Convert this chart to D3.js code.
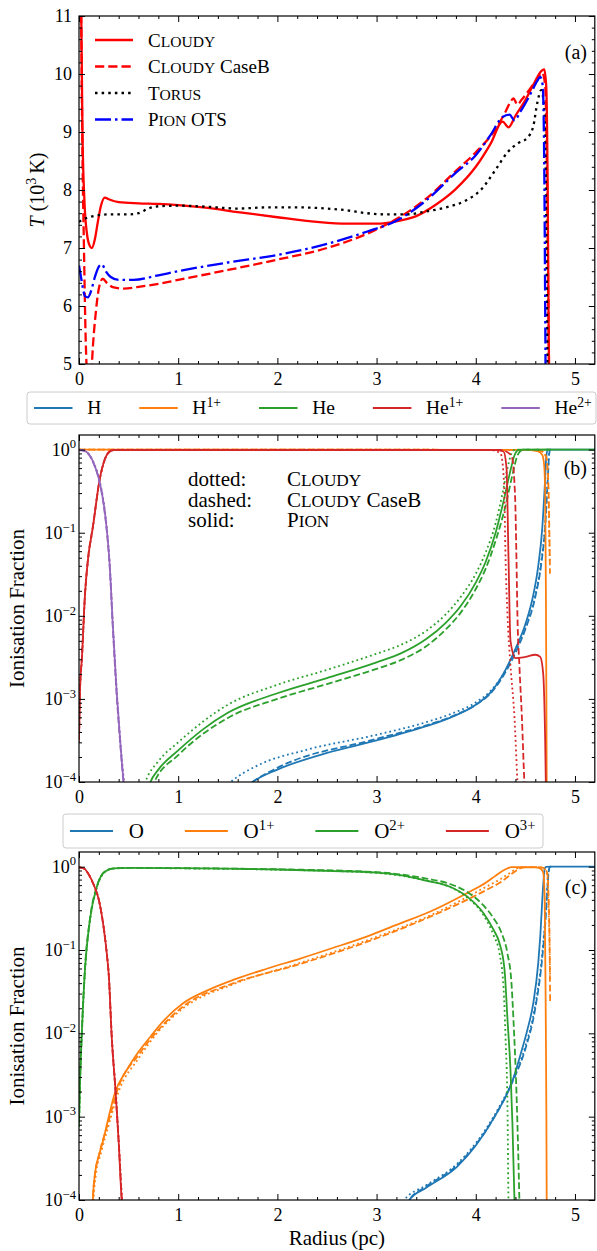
<!DOCTYPE html>
<html>
<head>
<meta charset="utf-8">
<script src="https://cdn.jsdelivr.net/npm/d3@7"></script>
<style>
  html, body { margin: 0; padding: 0; background: #fff; }
  svg { display: block; }
  svg text, svg tspan {
    font-family: "Liberation Serif", "Times New Roman", Tinos, "Nimbus Roman", "Noto Serif", "DejaVu Serif", FreeSerif, serif;
    fill: #000;
  }
</style>
</head>
<body>
<svg id="fig" width="597" height="1251"></svg>
<script>
// ---------- tick values ----------
const radiusTicks = [0, 1, 2, 3, 4, 5];
const tempTicks = [5, 6, 7, 8, 9, 10, 11];
const fracTicks = [1e-4, 1e-3, 1e-2, 1e-1, 1];

// ---------- panel (a): temperature in 10^3 K against radius in pc ----------
const tempCloudy = [[0.0, 14], [0.02, 11.5], [0.035, 9.0], [0.055, 7.8], [0.08, 7.25], [0.105, 7.05], [0.13, 7.0],
  [0.16, 7.15], [0.19, 7.45], [0.22, 7.72], [0.26, 7.87], [0.3, 7.84], [0.4, 7.79], [0.6, 7.77], [0.8, 7.76],
  [1.0, 7.74], [1.3, 7.69], [1.6, 7.62], [2.0, 7.53], [2.4, 7.45], [2.7, 7.42], [3.0, 7.42], [3.2, 7.46],
  [3.4, 7.55], [3.6, 7.75], [3.8, 8.02], [4.0, 8.4], [4.15, 8.8], [4.27, 9.18], [4.33, 9.08], [4.4, 9.28],
  [4.5, 9.55], [4.6, 9.88], [4.66, 10.05], [4.69, 10.08], [4.71, 9.8], [4.725, 8.0], [4.735, 5.5], [4.745, 4.0]];
const tempCloudyCaseB = [[0.0, 14], [0.02, 11.3], [0.035, 8.6], [0.05, 7.0], [0.065, 5.6], [0.08, 4.8], [0.1, 4.4],
  [0.12, 4.7], [0.14, 5.3], [0.17, 5.9], [0.2, 6.3], [0.24, 6.47], [0.28, 6.4], [0.35, 6.32], [0.45, 6.3],
  [0.6, 6.33], [0.8, 6.38], [1.0, 6.45], [1.5, 6.62], [2.0, 6.8], [2.5, 7.0], [3.0, 7.32], [3.2, 7.5], [3.5, 7.85],
  [3.8, 8.33], [4.0, 8.65], [4.2, 9.05], [4.3, 9.35], [4.35, 9.52], [4.38, 9.58], [4.42, 9.47], [4.46, 9.55],
  [4.55, 9.75], [4.62, 9.92], [4.67, 10.02], [4.7, 9.8], [4.72, 8.0], [4.735, 5.5], [4.745, 4.0]];
const tempTorus = [[0.0, 7.45], [0.05, 7.5], [0.15, 7.55], [0.3, 7.58], [0.5, 7.58], [0.6, 7.6], [0.7, 7.68],
  [0.8, 7.72], [1.0, 7.73], [1.3, 7.71], [1.6, 7.68], [1.9, 7.7], [2.2, 7.7], [2.5, 7.68], [2.7, 7.65], [2.9, 7.6],
  [3.1, 7.58], [3.3, 7.58], [3.5, 7.63], [3.7, 7.7], [3.9, 7.82], [4.05, 8.0], [4.2, 8.35], [4.32, 8.65],
  [4.42, 8.8], [4.52, 8.9], [4.58, 9.1], [4.62, 9.5], [4.66, 9.72], [4.69, 9.4], [4.71, 7.5], [4.72, 5.5], [4.73, 4.0]];
const tempPion = [[0.0, 6.7], [0.02, 6.5], [0.04, 6.3], [0.06, 6.17], [0.09, 6.15], [0.12, 6.25], [0.16, 6.5],
  [0.2, 6.68], [0.23, 6.72], [0.27, 6.6], [0.32, 6.5], [0.4, 6.45], [0.55, 6.45], [0.8, 6.53], [1.0, 6.6],
  [1.5, 6.75], [2.0, 6.88], [2.5, 7.07], [2.9, 7.28], [3.2, 7.47], [3.5, 7.82], [3.8, 8.3], [4.0, 8.6],
  [4.15, 8.95], [4.27, 9.26], [4.34, 9.3], [4.39, 9.2], [4.45, 9.35], [4.55, 9.65], [4.62, 9.88], [4.65, 9.95],
  [4.675, 9.8], [4.69, 8.5], [4.698, 6.5], [4.705, 4.5]];

// ---------- panel (b): hydrogen and helium ionisation fractions ----------
const hCloudy = [[1.4, 7e-5], [1.53, 1e-4], [1.8, 1.58e-4], [2.27, 2.4e-4], [3.0, 3.7e-4], [3.5, 5.25e-4],
  [3.75, 6.6e-4], [4.0, 9.1e-4], [4.15, 1.25e-3], [4.3, 2.2e-3], [4.4, 3.8e-3], [4.5, 7.2e-3], [4.6, 0.0178],
  [4.66, 0.045], [4.7, 0.13], [4.725, 0.45], [4.74, 0.9], [4.75, 1], [4.76, 1]];
const hCaseB = [[1.6, 7e-5], [1.75, 1e-4], [2.0, 1.48e-4], [3.0, 3.3e-4], [3.5, 4.8e-4], [3.75, 6.1e-4],
  [4.0, 8.5e-4], [4.15, 1.17e-3], [4.3, 2.1e-3], [4.4, 3.6e-3], [4.5, 6.9e-3], [4.6, 0.0168], [4.66, 0.042],
  [4.7, 0.12], [4.725, 0.42], [4.74, 0.88], [4.75, 1], [4.76, 1]];
const hPion = [[1.6, 7e-5], [1.75, 1e-4], [2.0, 1.41e-4], [2.5, 2.24e-4], [3.0, 3.16e-4], [3.5, 4.7e-4],
  [3.75, 6e-4], [4.0, 8.5e-4], [4.15, 1.2e-3], [4.3, 2.24e-3], [4.4, 4e-3], [4.5, 7.9e-3], [4.58, 0.0178],
  [4.63, 0.04], [4.67, 0.112], [4.695, 0.355], [4.71, 0.79], [4.725, 1], [5.2, 1]];

const h1Cloudy = [[0, 1], [4.5, 0.994], [4.6, 0.984], [4.67, 0.95], [4.71, 0.8], [4.73, 0.37], [4.74, 0.1], [4.746, 0.045]];
const h1CaseB = [[0, 1], [4.5, 0.994], [4.6, 0.986], [4.67, 0.955], [4.71, 0.82], [4.73, 0.44], [4.742, 0.1], [4.748, 0.032]];
const h1Pion = [[0, 1], [4.5, 0.994], [4.62, 0.96], [4.67, 0.87], [4.69, 0.64], [4.70, 0.3], [4.707, 0.02],
  [4.712, 1e-3], [4.716, 5e-5]];

const heCloudy = [[0.6, 5e-5], [0.67, 1e-4], [0.8, 1.78e-4], [1.0, 3e-4], [1.5, 8.5e-4], [2.0, 1.48e-3],
  [2.5, 2.24e-3], [3.0, 3.5e-3], [3.25, 4.5e-3], [3.5, 6.6e-3], [3.7, 0.0105], [3.85, 0.017], [4.0, 0.032],
  [4.1, 0.058], [4.2, 0.13], [4.27, 0.3], [4.32, 0.6], [4.36, 0.9], [4.39, 0.99], [4.42, 1], [4.76, 1]];
const heCaseB = [[0.68, 5e-5], [0.76, 1e-4], [1.0, 2.1e-4], [1.5, 5.9e-4], [2.0, 1e-3], [2.5, 1.51e-3],
  [3.0, 2.3e-3], [3.25, 2.95e-3], [3.5, 4.3e-3], [3.7, 6.9e-3], [3.85, 0.011], [4.0, 0.021], [4.1, 0.037],
  [4.2, 0.08], [4.3, 0.21], [4.37, 0.5], [4.42, 0.85], [4.46, 0.98], [4.49, 1], [4.76, 1]];
const hePion = [[0.65, 5e-5], [0.72, 1e-4], [0.8, 1.41e-4], [1.0, 2.4e-4], [1.25, 4.3e-4], [1.5, 6.8e-4],
  [2.0, 1.17e-3], [2.5, 1.78e-3], [3.0, 2.75e-3], [3.25, 3.55e-3], [3.5, 5.25e-3], [3.7, 8.3e-3], [3.85, 0.0132],
  [4.0, 0.0251], [4.1, 0.0447], [4.2, 0.1], [4.28, 0.24], [4.34, 0.5], [4.39, 0.85], [4.43, 0.99], [4.46, 1], [5.2, 1]];

const he1Cloudy = [[0, 3e-4], [0.01, 1.2e-3], [0.03, 3e-3], [0.06, 0.017], [0.09, 0.045], [0.14, 0.115],
  [0.21, 0.44], [0.26, 0.75], [0.3, 0.92], [0.35, 0.99], [4.15, 0.99], [4.25, 0.9], [4.285, 0.4], [4.3, 0.05],
  [4.32, 0.01], [4.35, 2.5e-3], [4.39, 6e-4], [4.42, 1e-4], [4.43, 6e-5]];
const he1CaseB = [[0, 3.3e-4], [0.01, 1.3e-3], [0.03, 3.3e-3], [0.06, 0.018], [0.09, 0.048], [0.14, 0.12],
  [0.21, 0.45], [0.26, 0.77], [0.3, 0.93], [0.35, 0.99], [4.25, 0.99], [4.36, 0.85], [4.395, 0.3], [4.41, 0.05],
  [4.42, 0.01], [4.44, 2.5e-3], [4.465, 6e-4], [4.49, 1e-4], [4.5, 6e-5]];
const he1Pion = [[0, 3.2e-4], [0.01, 1.26e-3], [0.03, 3.2e-3], [0.06, 0.0178], [0.09, 0.047], [0.14, 0.117],
  [0.21, 0.447], [0.26, 0.76], [0.3, 0.93], [0.35, 0.99], [4.2, 0.99], [4.28, 0.95], [4.31, 0.6], [4.33, 0.05],
  [4.35, 5e-3], [4.4, 3.1e-3], [4.5, 3.2e-3], [4.6, 3.4e-3], [4.65, 3.2e-3], [4.68, 2e-3], [4.7, 3e-4], [4.71, 5e-5]];

const he2Cloudy = [[0, 0.99], [0.05, 0.97], [0.1, 0.88], [0.15, 0.69], [0.2, 0.46], [0.25, 0.23], [0.28, 0.115],
  [0.31, 0.042], [0.34, 8.5e-3], [0.38, 1.3e-3], [0.42, 2.8e-4], [0.455, 1e-4], [0.475, 6e-5]];
const he2CaseB = [[0, 0.99], [0.05, 0.97], [0.1, 0.87], [0.15, 0.67], [0.2, 0.44], [0.25, 0.21], [0.28, 0.105],
  [0.31, 0.038], [0.34, 7.6e-3], [0.38, 1.1e-3], [0.42, 2.5e-4], [0.448, 1e-4], [0.468, 6e-5]];
const he2Pion = [[0, 0.99], [0.05, 0.97], [0.1, 0.88], [0.15, 0.68], [0.2, 0.45], [0.25, 0.22], [0.28, 0.11],
  [0.31, 0.04], [0.34, 8e-3], [0.38, 1.2e-3], [0.42, 2.6e-4], [0.45, 1e-4], [0.47, 6e-5]];

// ---------- panel (c): oxygen ionisation fractions ----------
const oCloudy = [[3.2, 5e-5], [3.28, 1e-4], [3.5, 1.5e-4], [3.81, 2.7e-4], [4.0, 4.8e-4], [4.19, 1.05e-3],
  [4.375, 2.8e-3], [4.5, 7e-3], [4.6, 0.022], [4.67, 0.09], [4.71, 0.35], [4.73, 0.8], [4.745, 0.99], [4.76, 1]];
const oCaseB = [[3.25, 5e-5], [3.33, 1e-4], [3.5, 1.45e-4], [3.81, 2.6e-4], [4.0, 4.6e-4], [4.19, 1e-3],
  [4.375, 2.7e-3], [4.5, 6.5e-3], [4.6, 0.02], [4.67, 0.08], [4.71, 0.3], [4.73, 0.75], [4.745, 0.99], [4.76, 1]];
const oPion = [[3.25, 5e-5], [3.33, 1e-4], [3.5, 1.4e-4], [3.81, 2.5e-4], [4.0, 4.5e-4], [4.19, 1e-3],
  [4.375, 2.8e-3], [4.45, 5.5e-3], [4.52, 0.011], [4.58, 0.023], [4.63, 0.07], [4.65, 0.145], [4.68, 0.6],
  [4.695, 0.95], [4.71, 0.995], [4.75, 1], [5.2, 1]];

const o1Cloudy = [[0.14, 5e-5], [0.147, 1e-4], [0.17, 2e-4], [0.22, 3.6e-4], [0.3, 8e-4], [0.4, 2e-3], [0.6, 5e-3],
  [0.8, 0.0105], [1.05, 0.02], [1.56, 0.039], [2.23, 0.07], [2.9, 0.13], [3.57, 0.27], [3.91, 0.43], [4.1, 0.57],
  [4.24, 0.7], [4.35, 0.85], [4.42, 0.96], [4.46, 0.99], [4.6, 0.99], [4.68, 0.97], [4.72, 0.8], [4.735, 0.3],
  [4.745, 0.1], [4.75, 0.045]];
const o1CaseB = [[0.135, 5e-5], [0.14, 1e-4], [0.16, 2e-4], [0.2, 3.4e-4], [0.3, 9e-4], [0.4, 2.3e-3],
  [0.6, 5.5e-3], [0.8, 0.011], [1.05, 0.021], [1.56, 0.04], [2.23, 0.068], [2.9, 0.125], [3.57, 0.26], [3.91, 0.4],
  [4.1, 0.52], [4.24, 0.64], [4.4, 0.88], [4.46, 0.97], [4.5, 0.99], [4.6, 0.99], [4.68, 0.97], [4.72, 0.85],
  [4.735, 0.4], [4.745, 0.1], [4.75, 0.023]];
const o1Pion = [[0.135, 5e-5], [0.14, 1e-4], [0.16, 2e-4], [0.2, 3.4e-4], [0.24, 5e-4], [0.3, 1e-3],
  [0.36, 1.9e-3], [0.48, 3.6e-3], [0.6, 6e-3], [0.72, 9.1e-3], [0.85, 0.014], [1.05, 0.023], [1.3, 0.033],
  [1.56, 0.044], [1.9, 0.06], [2.23, 0.079], [2.55, 0.105], [2.9, 0.145], [3.2, 0.2], [3.57, 0.3], [3.91, 0.48],
  [4.1, 0.64], [4.2, 0.78], [4.3, 0.93], [4.36, 0.985], [4.6, 0.98], [4.65, 0.95], [4.68, 0.85], [4.695, 0.4],
  [4.705, 0.02], [4.712, 1e-3], [4.716, 5e-5]];

const o2Cloudy = [[0, 7.5e-4], [0.01, 2.4e-3], [0.03, 0.0105], [0.06, 0.055], [0.11, 0.22], [0.18, 0.56],
  [0.26, 0.86], [0.35, 0.95], [0.5, 0.965], [1.0, 0.955], [2.0, 0.92], [3.0, 0.84], [3.5, 0.68], [3.74, 0.57],
  [3.91, 0.43], [4.08, 0.26], [4.18, 0.15], [4.24, 0.09], [4.28, 0.035], [4.3, 9e-3], [4.32, 1.2e-3],
  [4.33, 1e-4], [4.34, 5e-5]];
const o2CaseB = [[0, 8.5e-4], [0.01, 2.6e-3], [0.03, 0.0115], [0.06, 0.06], [0.11, 0.235], [0.18, 0.58],
  [0.26, 0.875], [0.35, 0.955], [0.5, 0.97], [1.0, 0.96], [2.0, 0.93], [3.0, 0.86], [3.5, 0.72], [3.74, 0.62],
  [3.91, 0.5], [4.08, 0.34], [4.18, 0.24], [4.26, 0.16], [4.32, 0.09], [4.36, 0.04], [4.38, 0.0145],
  [4.41, 2e-3], [4.43, 3e-4], [4.44, 1e-4], [4.45, 5e-5]];
const o2Pion = [[0, 8e-4], [0.01, 2.5e-3], [0.03, 0.011], [0.06, 0.058], [0.11, 0.23], [0.18, 0.575],
  [0.26, 0.87], [0.35, 0.955], [0.5, 0.97], [1.0, 0.96], [1.5, 0.945], [2.0, 0.925], [2.5, 0.89], [3.0, 0.85],
  [3.24, 0.79], [3.5, 0.68], [3.74, 0.575], [3.91, 0.44], [4.08, 0.275], [4.18, 0.174], [4.24, 0.12],
  [4.29, 0.058], [4.32, 0.0145], [4.35, 3.6e-3], [4.37, 8e-4], [4.39, 1e-4], [4.4, 5e-5]];

const o3Cloudy = [[0, 0.98], [0.05, 0.95], [0.1, 0.8], [0.15, 0.6], [0.2, 0.4], [0.25, 0.185], [0.28, 0.095],
  [0.3, 0.052], [0.33, 0.0095], [0.37, 2e-3], [0.4, 5.3e-4], [0.435, 1e-4], [0.455, 5e-5]];
const o3CaseB = [[0, 0.98], [0.05, 0.95], [0.1, 0.8], [0.15, 0.6], [0.2, 0.4], [0.25, 0.18], [0.28, 0.09],
  [0.3, 0.05], [0.33, 9e-3], [0.37, 1.9e-3], [0.4, 5e-4], [0.432, 1e-4], [0.452, 5e-5]];
const o3Pion = [[0, 0.98], [0.05, 0.95], [0.1, 0.8], [0.15, 0.6], [0.2, 0.4], [0.25, 0.18], [0.28, 0.091],
  [0.3, 0.05], [0.33, 9e-3], [0.37, 1.9e-3], [0.4, 5e-4], [0.43, 1e-4], [0.45, 5e-5]];

// ---------- legend entries ----------
const modelNames = ["Cloudy", "Cloudy CaseB", "Torus", "Pion OTS"];
const smallCapWords = ["Cloudy", "Torus", "Pion"];
const hHeIons = ["H", "H1+", "He", "He1+", "He2+"];
const oxygenIons = ["O", "O1+", "O2+", "O3+"];
const styleNotes = [["dotted:", "Cloudy"], ["dashed:", "Cloudy CaseB"], ["solid:", "Pion"]];

// ---------- layout ----------
const X0 = 79, X1 = 594.8;
const panelA = { top: 16, bottom: 364 };
const panelB = { top: 435, bottom: 782 };
const panelC = { top: 852, bottom: 1200 };
const tab10 = ["#1f77b4", "#ff7f0e", "#2ca02c", "#d62728", "#9467bd"];
const serif = '"Liberation Serif", "Times New Roman", Tinos, "Nimbus Roman", "Noto Serif", "DejaVu Serif", serif';

const svg = d3.select("#fig").attr("font-family", serif);
const x = d3.scaleLinear().domain([0, 5.2]).range([X0, X1]);
const minorX = d3.range(1, 26).map(i => i * 0.2).filter(v => Math.abs(v - Math.round(v)) > 1e-6);

function dashFor(style, lw) {
  if (style === "dashed") return [3.7 * lw, 1.6 * lw].join(",");
  if (style === "dotted") return [1 * lw, 1.65 * lw].join(",");
  if (style === "dashdot") return [6.4 * lw, 1.6 * lw, 1 * lw, 1.6 * lw].join(",");
  return null;
}

// text made of plain, italic, superscript and small-capital pieces
function richText(sel, parts, size) {
  sel.attr("font-size", size).attr("font-family", serif);
  let raise = 0;
  parts.forEach(p => {
    if (p.sup) {
      const up = size * 0.4;
      sel.append("tspan").attr("dy", -up - raise).attr("font-size", size * 0.7).text(p.t);
      raise = -up;
      return;
    }
    const back = -raise;
    raise = 0;
    if (p.sc) {
      sel.append("tspan").attr("dy", back || null).attr("font-size", size).text(p.t[0]);
      sel.append("tspan").attr("font-size", size * 0.82).text(p.t.slice(1).toUpperCase());
    } else {
      sel.append("tspan").attr("dy", back || null).attr("font-size", size)
        .attr("font-style", p.it ? "italic" : null).text(p.t);
    }
  });
  return sel;
}
function modelParts(name) {
  const words = name.split(" ");
  const parts = [];
  words.forEach((w, i) => {
    const sep = i < words.length - 1 ? "\u00a0" : "";
    if (smallCapWords.includes(w)) {
      parts.push({ t: w, sc: true });
      if (sep) parts.push({ t: sep });
    } else parts.push({ t: w + sep });
  });
  return parts;
}
function ionParts(name) {
  const m = name.match(/^([A-Za-z]+)(.*)$/);
  return m[2] ? [{ t: m[1] }, { t: m[2], sup: true }] : [{ t: m[1] }];
}

function drawAxes(y, p, yMajor, yMinor) {
  const g = svg.append("g");
  const put = (axis, tx, ty) => g.append("g").attr("transform", `translate(${tx},${ty})`).call(axis);
  put(d3.axisBottom(x).tickValues(radiusTicks).tickSize(-6).tickPadding(8).tickFormat(d3.format("d")), 0, p.bottom);
  put(d3.axisBottom(x).tickValues(minorX).tickSize(-3).tickFormat(""), 0, p.bottom);
  put(d3.axisTop(x).tickValues(radiusTicks).tickSize(-6).tickFormat(""), 0, p.top);
  put(d3.axisTop(x).tickValues(minorX).tickSize(-3).tickFormat(""), 0, p.top);
  put(d3.axisLeft(y).tickValues(yMajor).tickSize(-6).tickFormat(""), X0, 0);
  put(d3.axisLeft(y).tickValues(yMinor).tickSize(-3).tickFormat(""), X0, 0);
  put(d3.axisRight(y).tickValues(yMajor).tickSize(-6).tickFormat(""), X1, 0);
  put(d3.axisRight(y).tickValues(yMinor).tickSize(-3).tickFormat(""), X1, 0);
  g.selectAll(".domain").remove();
  g.selectAll("g").attr("font-family", serif).attr("font-size", 18);
  g.selectAll(".tick line").attr("stroke", "#000").attr("stroke-width", 1);
  g.selectAll(".tick text").attr("font-family", serif).attr("font-size", 18).attr("fill", "#000");
  svg.append("rect").attr("x", X0).attr("y", p.top).attr("width", X1 - X0).attr("height", p.bottom - p.top)
    .attr("fill", "none").attr("stroke", "#000").attr("stroke-width", 1.2);
}

function clip(id, p) {
  svg.append("clipPath").attr("id", id).append("rect")
    .attr("x", X0).attr("y", p.top).attr("width", X1 - X0).attr("height", p.bottom - p.top);
}

// ================= panel (a) =================
const yA = d3.scaleLinear().domain([5, 11]).range([panelA.bottom, panelA.top]);
clip("clipA", panelA);
const lineA = d3.line().x(d => x(d[0])).y(d => yA(d[1])).curve(d3.curveMonotoneX);
const seriesA = [
  { data: tempCloudy, color: "#ff0000", style: "solid" },
  { data: tempCloudyCaseB, color: "#ff0000", style: "dashed" },
  { data: tempTorus, color: "#000000", style: "dotted" },
  { data: tempPion, color: "#0000ff", style: "dashdot" }
];
const lwA = 2.3;
const gA = svg.append("g").attr("clip-path", "url(#clipA)");
seriesA.forEach(s => {
  gA.append("path").attr("d", lineA(s.data)).attr("fill", "none").attr("stroke", s.color)
    .attr("stroke-width", lwA).attr("stroke-dasharray", dashFor(s.style, 2.5));
});
drawAxes(yA, panelA, tempTicks, d3.range(5, 11, 0.2).map(v => +v.toFixed(1)).filter(v => !tempTicks.includes(v)));
svg.append("g").selectAll("text").data(tempTicks).join("text")
  .attr("x", 72).attr("y", d => yA(d) + 6).attr("text-anchor", "end")
  .attr("font-family", serif).attr("font-size", 18).text(d => d);

// legend (a)
const legA = svg.append("g");
seriesA.forEach((s, i) => {
  const yy = 40 + i * 26.5;
  legA.append("line").attr("x1", 95).attr("x2", 133).attr("y1", yy).attr("y2", yy)
    .attr("stroke", s.color).attr("stroke-width", lwA).attr("stroke-dasharray", dashFor(s.style, 2.5));
  richText(legA.append("text").attr("x", 148).attr("y", yy + 6.5), modelParts(modelNames[i]), 19);
});
svg.append("text").attr("x", 587).attr("y", 59).attr("text-anchor", "end")
  .attr("font-family", serif).attr("font-size", 20).text("(a)");
richText(svg.append("text").attr("transform", "translate(44,190) rotate(-90)").attr("text-anchor", "middle"),
  [{ t: "T", it: true }, { t: "\u00a0(10" }, { t: "3", sup: true }, { t: "\u2009K)" }], 20);

// ================= ionisation panels =================
function ionPanel(p, clipId, species, ions, legendBox, legendSize, handleLen, label) {
  const y = d3.scaleLog().domain([1e-4, 1.5]).range([p.bottom, p.top]);
  clip(clipId, p);
  const line = d3.line().x(d => x(d[0])).y(d => y(d[1])).curve(d3.curveMonotoneX);
  const g = svg.append("g").attr("clip-path", `url(#${clipId})`);
  const lw = 1.8;
  species.forEach((sets, i) => {
    [["solid", sets[2]], ["dotted", sets[0]], ["dashed", sets[1]]].forEach(([style, data]) => {
      g.append("path").attr("d", line(data)).attr("fill", "none").attr("stroke", tab10[i])
        .attr("stroke-width", lw).attr("stroke-dasharray", dashFor(style, lw));
    });
  });
  const minors = [];
  for (let e = -4; e < 0; e++) for (let k = 2; k <= 9; k++) minors.push(k * Math.pow(10, e));
  drawAxes(y, p, fracTicks, minors);
  fracTicks.forEach(v => {
    const e = Math.round(Math.log10(v));
    richText(svg.append("text").attr("x", 76).attr("y", y(v) + 6).attr("text-anchor", "end"),
      [{ t: "10" }, { t: e < 0 ? "\u2212" + (-e) : String(e), sup: true }], 18);
  });
  svg.append("text").attr("transform", `translate(24,${(p.top + p.bottom) / 2}) rotate(-90)`)
    .attr("text-anchor", "middle").attr("font-family", serif).attr("font-size", 21).text("Ionisation Fraction");
  svg.append("text").attr("x", 587).attr("y", p.top + label.dy).attr("text-anchor", "end")
    .attr("font-family", serif).attr("font-size", 20).text(label.t);

  // legend above the panel
  const lg = svg.append("g");
  lg.append("rect").attr("x", legendBox.x).attr("y", legendBox.y).attr("width", legendBox.w).attr("height", legendBox.h)
    .attr("rx", 3).attr("fill", "#fff").attr("stroke", "#cccccc").attr("stroke-width", 1);
  let cx = legendBox.x + 7;
  const cy = legendBox.y + legendBox.h / 2;
  ions.forEach((name, i) => {
    lg.append("line").attr("x1", cx).attr("x2", cx + handleLen).attr("y1", cy).attr("y2", cy)
      .attr("stroke", tab10[i]).attr("stroke-width", 2);
    const t = richText(lg.append("text").attr("x", cx + handleLen + legendSize * 0.75).attr("y", cy + legendSize * 0.33),
      ionParts(name), legendSize);
    cx += handleLen + legendSize * 0.75 + t.node().getComputedTextLength() + legendSize * 1.95;
  });
  return y;
}

ionPanel(panelB, "clipB",
  [[hCloudy, hCaseB, hPion], [h1Cloudy, h1CaseB, h1Pion], [heCloudy, heCaseB, hePion],
   [he1Cloudy, he1CaseB, he1Pion], [he2Cloudy, he2CaseB, he2Pion]],
  hHeIons, { x: 27, y: 392, w: 569, h: 32 }, 19.5, 38.5, { t: "(b)", dy: 40 });

ionPanel(panelC, "clipC",
  [[oCloudy, oCaseB, oPion], [o1Cloudy, o1CaseB, o1Pion], [o2Cloudy, o2CaseB, o2Pion], [o3Cloudy, o3CaseB, o3Pion]],
  oxygenIons, { x: 63, y: 814, w: 480, h: 34 }, 21, 43, { t: "(c)", dy: 42 });

// line-style key inside panel (b)
const notes = svg.append("g");
styleNotes.forEach((n, i) => {
  const yy = 486 + i * 20.5;
  notes.append("text").attr("x", 188).attr("y", yy).attr("font-family", serif).attr("font-size", 21).text(n[0]);
  richText(notes.append("text").attr("x", 287).attr("y", yy), modelParts(n[1]), 21);
});

svg.append("text").attr("x", (X0 + X1) / 2).attr("y", 1245).attr("text-anchor", "middle")
  .attr("font-family", serif).attr("font-size", 21).text("Radius\u2009(pc)");
</script>
</body>
</html>
